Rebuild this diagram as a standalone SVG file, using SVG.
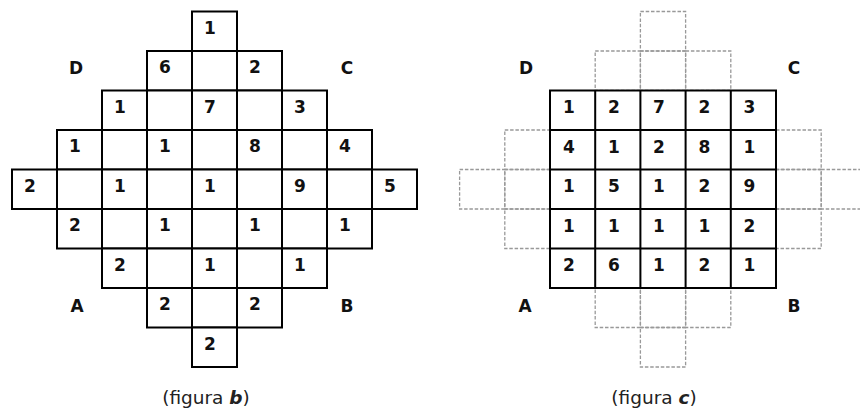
<svg xmlns="http://www.w3.org/2000/svg" width="860" height="409" viewBox="0 0 860 409">
<style>
.c{fill:#fff;stroke:#000;stroke-width:2}
.d{fill:none;stroke:#999;stroke-width:1.3;stroke-dasharray:3.5,1.8}
.n{font-family:"DejaVu Sans",Verdana,sans-serif;font-weight:bold;font-size:17px;fill:#111}
.l{font-family:"DejaVu Sans",Verdana,sans-serif;font-weight:bold;font-size:17px;fill:#111;text-anchor:middle}
.cap{font-family:"DejaVu Sans",Verdana,sans-serif;font-size:18.5px;fill:#222;text-anchor:middle}
</style>
<rect width="860" height="409" fill="#fff"/>
<g id="figura-b">
<g id="b-cells">
<rect class="c" x="192" y="11.5" width="45" height="39.5"/>
<rect class="c" x="147" y="51" width="45" height="39.5"/><rect class="c" x="192" y="51" width="45" height="39.5"/><rect class="c" x="237" y="51" width="45" height="39.5"/>
<rect class="c" x="102" y="90.5" width="45" height="39.5"/><rect class="c" x="147" y="90.5" width="45" height="39.5"/><rect class="c" x="192" y="90.5" width="45" height="39.5"/><rect class="c" x="237" y="90.5" width="45" height="39.5"/><rect class="c" x="282" y="90.5" width="45" height="39.5"/>
<rect class="c" x="57" y="130" width="45" height="39.5"/><rect class="c" x="102" y="130" width="45" height="39.5"/><rect class="c" x="147" y="130" width="45" height="39.5"/><rect class="c" x="192" y="130" width="45" height="39.5"/><rect class="c" x="237" y="130" width="45" height="39.5"/><rect class="c" x="282" y="130" width="45" height="39.5"/><rect class="c" x="327" y="130" width="45" height="39.5"/>
<rect class="c" x="12" y="169.5" width="45" height="39.5"/><rect class="c" x="57" y="169.5" width="45" height="39.5"/><rect class="c" x="102" y="169.5" width="45" height="39.5"/><rect class="c" x="147" y="169.5" width="45" height="39.5"/><rect class="c" x="192" y="169.5" width="45" height="39.5"/><rect class="c" x="237" y="169.5" width="45" height="39.5"/><rect class="c" x="282" y="169.5" width="45" height="39.5"/><rect class="c" x="327" y="169.5" width="45" height="39.5"/><rect class="c" x="372" y="169.5" width="45" height="39.5"/>
<rect class="c" x="57" y="209" width="45" height="39.5"/><rect class="c" x="102" y="209" width="45" height="39.5"/><rect class="c" x="147" y="209" width="45" height="39.5"/><rect class="c" x="192" y="209" width="45" height="39.5"/><rect class="c" x="237" y="209" width="45" height="39.5"/><rect class="c" x="282" y="209" width="45" height="39.5"/><rect class="c" x="327" y="209" width="45" height="39.5"/>
<rect class="c" x="102" y="248.5" width="45" height="39.5"/><rect class="c" x="147" y="248.5" width="45" height="39.5"/><rect class="c" x="192" y="248.5" width="45" height="39.5"/><rect class="c" x="237" y="248.5" width="45" height="39.5"/><rect class="c" x="282" y="248.5" width="45" height="39.5"/>
<rect class="c" x="147" y="288" width="45" height="39.5"/><rect class="c" x="192" y="288" width="45" height="39.5"/><rect class="c" x="237" y="288" width="45" height="39.5"/>
<rect class="c" x="192" y="327.5" width="45" height="39.5"/>
</g>
<g id="b-numbers">
<text class="n" x="204" y="33.5">1</text>
<text class="n" x="159" y="73">6</text><text class="n" x="249" y="73">2</text>
<text class="n" x="114" y="112.5">1</text><text class="n" x="204" y="112.5">7</text><text class="n" x="294" y="112.5">3</text>
<text class="n" x="69" y="152">1</text><text class="n" x="159" y="152">1</text><text class="n" x="249" y="152">8</text><text class="n" x="339" y="152">4</text>
<text class="n" x="24" y="191.5">2</text><text class="n" x="114" y="191.5">1</text><text class="n" x="204" y="191.5">1</text><text class="n" x="294" y="191.5">9</text><text class="n" x="384" y="191.5">5</text>
<text class="n" x="69" y="231">2</text><text class="n" x="159" y="231">1</text><text class="n" x="249" y="231">1</text><text class="n" x="339" y="231">1</text>
<text class="n" x="114" y="270.5">2</text><text class="n" x="204" y="270.5">1</text><text class="n" x="294" y="270.5">1</text>
<text class="n" x="159" y="310">2</text><text class="n" x="249" y="310">2</text>
<text class="n" x="204" y="349.5">2</text>
</g>
<g id="b-labels">
<text class="l" x="76" y="73.5">D</text>
<text class="l" x="347" y="73.5">C</text>
<text class="l" x="77" y="311.5">A</text>
<text class="l" x="347" y="311.5">B</text>
<text class="cap" x="206" y="404">(figura <tspan font-weight="bold" font-style="italic">b</tspan>)</text>
</g>
</g>
<g id="figura-c">
<g id="c-dashed">
<rect class="d" x="640.4" y="11.5" width="45.2" height="39.5"/>
<rect class="d" x="595.2" y="51" width="45.2" height="39.5"/><rect class="d" x="640.4" y="51" width="45.2" height="39.5"/><rect class="d" x="685.6" y="51" width="45.2" height="39.5"/>
<rect class="d" x="504.8" y="130" width="45.2" height="39.5"/><rect class="d" x="776" y="130" width="45.2" height="39.5"/>
<rect class="d" x="459.6" y="169.5" width="45.2" height="39.5"/><rect class="d" x="504.8" y="169.5" width="45.2" height="39.5"/><rect class="d" x="776" y="169.5" width="45.2" height="39.5"/><rect class="d" x="821.2" y="169.5" width="45.2" height="39.5"/>
<rect class="d" x="504.8" y="209" width="45.2" height="39.5"/><rect class="d" x="776" y="209" width="45.2" height="39.5"/>
<rect class="d" x="595.2" y="288" width="45.2" height="39.5"/><rect class="d" x="640.4" y="288" width="45.2" height="39.5"/><rect class="d" x="685.6" y="288" width="45.2" height="39.5"/>
<rect class="d" x="640.4" y="327.5" width="45.2" height="39.5"/>
</g>
<g id="c-grid">
<rect class="c" x="550" y="90.5" width="226" height="197.5"/>
<path d="M595.2 90.5V288M640.4 90.5V288M685.6 90.5V288M730.8 90.5V288M550 130H776M550 169.5H776M550 209H776M550 248.5H776" fill="none" stroke="#000" stroke-width="2"/>
</g>
<g id="c-numbers">
<text class="n" x="563" y="113">1</text><text class="n" x="608" y="113">2</text><text class="n" x="653" y="113">7</text><text class="n" x="698.5" y="113">2</text><text class="n" x="743.5" y="113">3</text>
<text class="n" x="563" y="152.5">4</text><text class="n" x="608" y="152.5">1</text><text class="n" x="653" y="152.5">2</text><text class="n" x="698.5" y="152.5">8</text><text class="n" x="743.5" y="152.5">1</text>
<text class="n" x="563" y="192">1</text><text class="n" x="608" y="192">5</text><text class="n" x="653" y="192">1</text><text class="n" x="698.5" y="192">2</text><text class="n" x="743.5" y="192">9</text>
<text class="n" x="563" y="231.5">1</text><text class="n" x="608" y="231.5">1</text><text class="n" x="653" y="231.5">1</text><text class="n" x="698.5" y="231.5">1</text><text class="n" x="743.5" y="231.5">2</text>
<text class="n" x="563" y="271">2</text><text class="n" x="608" y="271">6</text><text class="n" x="653" y="271">1</text><text class="n" x="698.5" y="271">2</text><text class="n" x="743.5" y="271">1</text>
</g>
<g id="c-labels">
<text class="l" x="526" y="73.5">D</text>
<text class="l" x="794" y="73.5">C</text>
<text class="l" x="525" y="311.5">A</text>
<text class="l" x="794" y="311.5">B</text>
<text class="cap" x="654" y="404">(figura <tspan font-weight="bold" font-style="italic">c</tspan>)</text>
</g>
</g>
</svg>
